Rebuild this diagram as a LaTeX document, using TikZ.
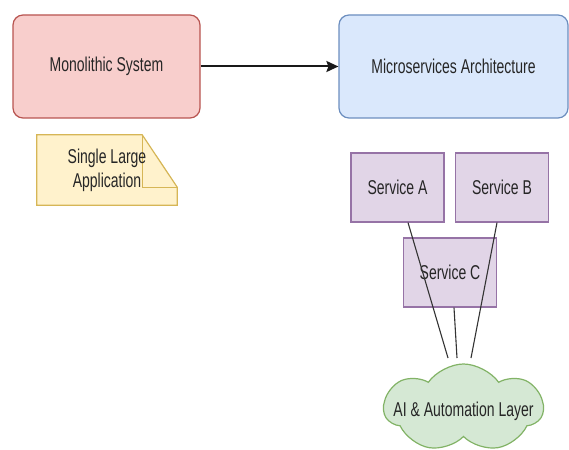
\documentclass[tikz,border=0pt]{standalone}
\usepackage{fontspec}
\newfontfamily\diafont[FakeStretch=0.7]{Liberation Sans}
\usetikzlibrary{shapes.symbols,arrows.meta}

\definecolor{monofill}{HTML}{F8CECC}
\definecolor{monoline}{HTML}{B85450}
\definecolor{microfill}{HTML}{DAE8FC}
\definecolor{microline}{HTML}{6C8EBF}
\definecolor{srvfill}{HTML}{E1D5E7}
\definecolor{srvline}{HTML}{9673A6}
\definecolor{notefill}{HTML}{FFF2CC}
\definecolor{noteline}{HTML}{D6B656}
\definecolor{cloudfill}{HTML}{D5E8D4}
\definecolor{cloudline}{HTML}{82B366}

\begin{document}
\begin{tikzpicture}[x=1pt,y=-1pt,
    every node/.style={font=\diafont\fontsize{20}{24}\selectfont, text=black!85},
    bigbox/.style={draw, rounded corners=10pt, line width=1.2pt, minimum width=187pt, minimum height=103pt},
    srvbox/.style={draw=srvline, fill=srvfill, line width=1.2pt, minimum width=93pt, minimum height=69pt},
    link/.style={draw=black!80, line width=1.1pt}]
            \clip (0,0) rectangle (569,449);

            \node[bigbox, fill=monofill, draw=monoline] (mono) at (106.5,66.5) {Monolithic System};
            \node[bigbox, fill=microfill, draw=microline, minimum width=229pt] (micro) at (453.5,66.5) {Microservices Architecture};

            % note with folded corner
            \node[minimum width=140pt, minimum height=70pt, inner sep=0pt] (single) at (107,170) {};
            \draw[fill=notefill, draw=noteline, line width=1.2pt]
                (single.south west) -- (single.north west) -- ([xshift=-35pt]single.north east)
                -- ([yshift=18pt]single.south east) -- (single.south east) -- cycle;
            \draw[draw=noteline, line width=1.2pt]
                ([xshift=-35pt]single.north east) -- ([xshift=-35pt,yshift=18pt]single.south east)
                -- ([yshift=18pt]single.south east);
            \node[align=center] at (single) {Single Large\\Application};

            \node[srvbox] (srva) at (397.5,187.5) {Service A};
            \node[srvbox] (srvb) at (502,187.5) {Service B};
            \node[srvbox] (srvc) at (450,272.5) {Service C};

            \node[cloud, cloud puffs=7, cloud puff arc=110, cloud ignores aspect, draw=cloudline, fill=cloudfill,
                  line width=1.2pt, minimum width=159pt, minimum height=88pt, inner sep=0pt] (layer) at (463.5,408) {};
            \node at ([yshift=-3pt]layer.center) {AI \& Automation Layer};

            \coordinate (enda) at (448,358);
            \coordinate (endc) at (457,358);
            \coordinate (endb) at (471,358);

            \draw[line width=2pt, black!90, -{Stealth[length=12pt,width=11pt,inset=2pt]}] (mono) -- (micro);
            \draw[link] ([xshift=10.5pt]srva.south) -- (enda);
            \draw[link] ([xshift=4pt]srvc.south) -- (endc);
            \draw[link] ([xshift=-5pt]srvb.south) -- (endb);
        \end{tikzpicture}
\end{document}
